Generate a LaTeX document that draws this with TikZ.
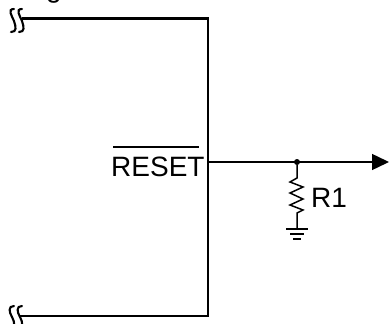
\documentclass[tikz,border=0pt]{standalone}
\usepackage{xcolor}
\usepackage{fontspec}
\setmainfont{Liberation Sans}
\usetikzlibrary{calc,arrows.meta,positioning}
\tikzset{
  wire/.style={draw, line width=2.1pt},
  thinwire/.style={draw, line width=1.5pt},
  label/.style={inner sep=0pt, font=\fontsize{28}{30}\selectfont},
  junction/.style={circle, fill=black, inner sep=0pt, minimum size=6pt},
  breakmark/.style={draw, line width=2.1pt, line cap=round}
}
\begin{document}
\begin{tikzpicture}[x=1pt,y=-1pt]
	\useasboundingbox (0,0) rectangle (389,324);
	\clip (0,0) rectangle (389,324);
	\coordinate (topend) at (22,18.5);
	\coordinate (topcorner) at (208,18.5);
	\coordinate (botend) at (20,316);
	\coordinate (botcorner) at (208,316);
	\coordinate (output) at (208,162);
	\coordinate (arrowend) at (389,162);
	\node[label, anchor=base west] (reset) at (111,176) {RESET};
	\node[label, anchor=base west] (rone) at (311,207) {R1};
	\node[label, anchor=base west] (cutoff) at (46,-2) {g};
	\node[junction] (tap) at (297,162) {};
	\coordinate (resbot) at (297,229);
	% wires
	\draw[wire] (topend) -- (topcorner) -- (botcorner) -- (botend);
	\draw[thinwire, -{Triangle[length=17pt,width=16pt]}] (output) -- (arrowend);
	\draw[line width=1.6pt] ($(reset.north west)+(2,-9)$) -- ($(reset.north east)+(-6,-9)$);
	% resistor
	\draw[thinwire, line join=miter] (tap) -- (297,178) -- (290,182) -- (303,187) -- (290,193)
		-- (303,199) -- (290,205) -- (303,210) -- (297,213) -- (resbot);
	% ground
	\draw[thinwire] ($(resbot)+(-11,0)$) -- ($(resbot)+(11,0)$);
	\draw[thinwire] ($(resbot)+(-7,5)$) -- ($(resbot)+(7,5)$);
	\draw[thinwire] ($(resbot)+(-4,10)$) -- ($(resbot)+(4,10)$);
	% break marks
	\foreach \bx in {0,8}{
		\draw[breakmark] (14+\bx,9) .. controls (7+\bx,9) and (12+\bx,16) .. (14+\bx,21)
			.. controls (16+\bx,27) and (17+\bx,32) .. (11+\bx,32);
		\draw[breakmark] (14+\bx,306) .. controls (8+\bx,306) and (9+\bx,312) .. (12+\bx,317)
			.. controls (15+\bx,322) and (15+\bx,328) .. (12+\bx,332);
	}
\end{tikzpicture}
\end{document}
